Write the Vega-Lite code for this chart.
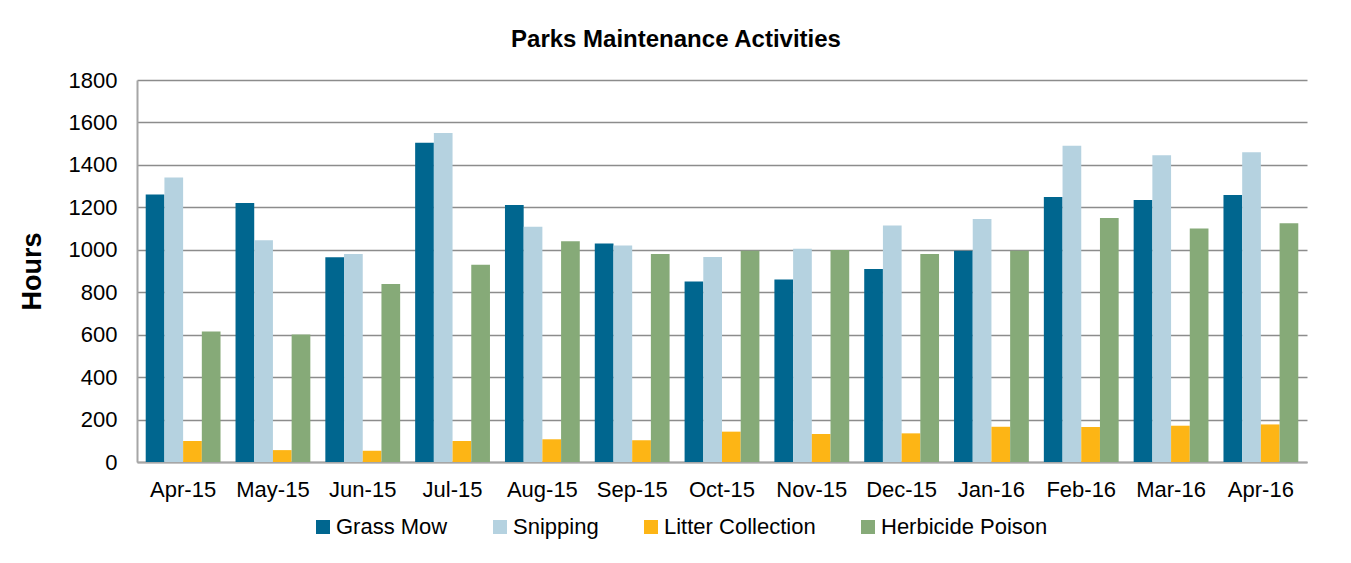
{
  "$schema": "https://vega.github.io/schema/vega-lite/v6.json",
  "width": 1170,
  "height": 382,
  "autosize": {"type": "none"},
  "padding": {"left": 137, "top": 80, "right": 44, "bottom": 101},
  "background": "white",
  "title": {
    "text": "Parks Maintenance Activities",
    "anchor": "middle",
    "dx": -46,
    "offset": 17,
    "font": "Liberation Sans",
    "fontSize": 24,
    "fontWeight": "bold",
    "color": "#000000"
  },
  "config": {
    "view": {"stroke": null},
    "font": "Liberation Sans"
  },
  "data": {
    "values": [
      {"month": "Apr-15", "activity": "Grass Mow", "hours": 1260},
      {"month": "Apr-15", "activity": "Snipping", "hours": 1340},
      {"month": "Apr-15", "activity": "Litter Collection", "hours": 99},
      {"month": "Apr-15", "activity": "Herbicide Poison", "hours": 615},
      {"month": "May-15", "activity": "Grass Mow", "hours": 1220},
      {"month": "May-15", "activity": "Snipping", "hours": 1045},
      {"month": "May-15", "activity": "Litter Collection", "hours": 56},
      {"month": "May-15", "activity": "Herbicide Poison", "hours": 601},
      {"month": "Jun-15", "activity": "Grass Mow", "hours": 965},
      {"month": "Jun-15", "activity": "Snipping", "hours": 980},
      {"month": "Jun-15", "activity": "Litter Collection", "hours": 53},
      {"month": "Jun-15", "activity": "Herbicide Poison", "hours": 839},
      {"month": "Jul-15", "activity": "Grass Mow", "hours": 1504},
      {"month": "Jul-15", "activity": "Snipping", "hours": 1550},
      {"month": "Jul-15", "activity": "Litter Collection", "hours": 99},
      {"month": "Jul-15", "activity": "Herbicide Poison", "hours": 930},
      {"month": "Aug-15", "activity": "Grass Mow", "hours": 1211},
      {"month": "Aug-15", "activity": "Snipping", "hours": 1109},
      {"month": "Aug-15", "activity": "Litter Collection", "hours": 107},
      {"month": "Aug-15", "activity": "Herbicide Poison", "hours": 1040},
      {"month": "Sep-15", "activity": "Grass Mow", "hours": 1029},
      {"month": "Sep-15", "activity": "Snipping", "hours": 1020},
      {"month": "Sep-15", "activity": "Litter Collection", "hours": 102},
      {"month": "Sep-15", "activity": "Herbicide Poison", "hours": 980},
      {"month": "Oct-15", "activity": "Grass Mow", "hours": 850},
      {"month": "Oct-15", "activity": "Snipping", "hours": 966},
      {"month": "Oct-15", "activity": "Litter Collection", "hours": 143},
      {"month": "Oct-15", "activity": "Herbicide Poison", "hours": 995},
      {"month": "Nov-15", "activity": "Grass Mow", "hours": 860},
      {"month": "Nov-15", "activity": "Snipping", "hours": 1005},
      {"month": "Nov-15", "activity": "Litter Collection", "hours": 132},
      {"month": "Nov-15", "activity": "Herbicide Poison", "hours": 999},
      {"month": "Dec-15", "activity": "Grass Mow", "hours": 910},
      {"month": "Dec-15", "activity": "Snipping", "hours": 1114},
      {"month": "Dec-15", "activity": "Litter Collection", "hours": 135},
      {"month": "Dec-15", "activity": "Herbicide Poison", "hours": 980},
      {"month": "Jan-16", "activity": "Grass Mow", "hours": 996},
      {"month": "Jan-16", "activity": "Snipping", "hours": 1145},
      {"month": "Jan-16", "activity": "Litter Collection", "hours": 166},
      {"month": "Jan-16", "activity": "Herbicide Poison", "hours": 995},
      {"month": "Feb-16", "activity": "Grass Mow", "hours": 1249},
      {"month": "Feb-16", "activity": "Snipping", "hours": 1490},
      {"month": "Feb-16", "activity": "Litter Collection", "hours": 165},
      {"month": "Feb-16", "activity": "Herbicide Poison", "hours": 1150},
      {"month": "Mar-16", "activity": "Grass Mow", "hours": 1235},
      {"month": "Mar-16", "activity": "Snipping", "hours": 1445},
      {"month": "Mar-16", "activity": "Litter Collection", "hours": 171},
      {"month": "Mar-16", "activity": "Herbicide Poison", "hours": 1100},
      {"month": "Apr-16", "activity": "Grass Mow", "hours": 1258},
      {"month": "Apr-16", "activity": "Snipping", "hours": 1459},
      {"month": "Apr-16", "activity": "Litter Collection", "hours": 177},
      {"month": "Apr-16", "activity": "Herbicide Poison", "hours": 1125}
    ]
  },
  "mark": {"type": "bar"},
  "encoding": {
    "x": {
      "field": "month",
      "type": "nominal",
      "sort": ["Apr-15", "May-15", "Jun-15", "Jul-15", "Aug-15", "Sep-15", "Oct-15", "Nov-15", "Dec-15", "Jan-16", "Feb-16", "Mar-16", "Apr-16"],
      "scale": {"paddingInner": 0.167, "paddingOuter": 0.097},
      "axis": {
        "title": null,
        "labelAngle": 0,
        "labelFont": "Liberation Sans",
        "labelFontSize": 22,
        "labelColor": "#000000",
        "labelPadding": 17,
        "ticks": false,
        "domainColor": "#a6a6a6",
        "domainWidth": 2,
        "grid": false
      }
    },
    "xOffset": {
      "field": "activity",
      "type": "nominal",
      "sort": ["Grass Mow", "Snipping", "Litter Collection", "Herbicide Poison"],
      "scale": {"paddingInner": 0, "paddingOuter": 0}
    },
    "y": {
      "field": "hours",
      "type": "quantitative",
      "scale": {"domain": [0, 1800], "nice": false},
      "axis": {
        "title": "Hours",
        "titleFont": "Liberation Sans",
        "titleFontSize": 27,
        "titleFontWeight": "bold",
        "titleColor": "#000000",
        "titlePadding": 22,
        "format": "d",
        "values": [0, 200, 400, 600, 800, 1000, 1200, 1400, 1600, 1800],
        "labelFont": "Liberation Sans",
        "labelFontSize": 22,
        "labelColor": "#000000",
        "labelPadding": 20,
        "ticks": false,
        "domainColor": "#a6a6a6",
        "domainWidth": 2,
        "gridColor": "#8c8c8c",
        "gridWidth": 1.6,
        "gridOpacity": 1
      }
    },
    "color": {
      "field": "activity",
      "type": "nominal",
      "sort": ["Grass Mow", "Snipping", "Litter Collection", "Herbicide Poison"],
      "scale": {
        "domain": ["Grass Mow", "Snipping", "Litter Collection", "Herbicide Poison"],
        "range": ["#00668f", "#b5d2e0", "#fdb515", "#86aa78"]
      },
      "legend": {
        "title": null,
        "orient": "none",
        "direction": "horizontal",
        "legendX": 175,
        "legendY": 436,
        "symbolType": "square",
        "symbolSize": 196,
        "symbolStrokeWidth": 0,
        "labelFont": "Liberation Sans",
        "labelFontSize": 22,
        "labelColor": "#000000",
        "labelOffset": 2,
        "columnPadding": 41,
        "labelLimit": 400
      }
    }
  }
}
